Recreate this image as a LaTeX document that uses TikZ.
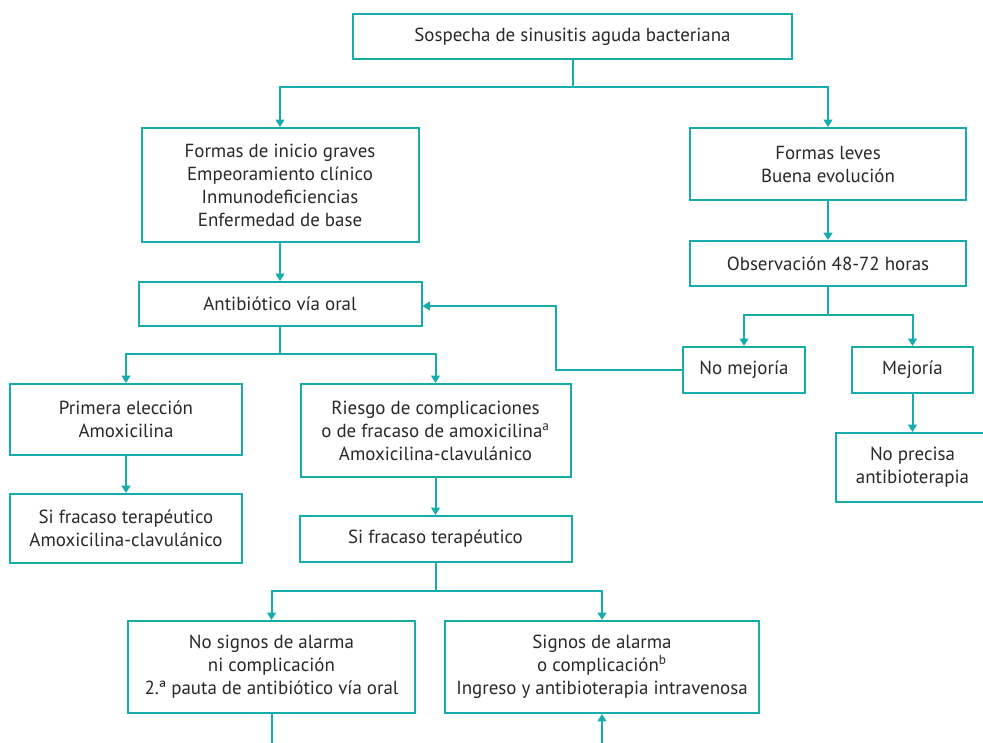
\documentclass[tikz,border=0pt]{standalone}
\usepackage{fontspec}
\setmainfont{PT Sans}
\usetikzlibrary{arrows.meta}

\definecolor{tealline}{RGB}{22,172,172}
\definecolor{inktext}{RGB}{40,40,40}

\tikzset{every picture/.style={line width=0.75pt}}
\tikzset{
  flowbox/.style={draw=tealline, line width=1.5pt, text=inktext, align=center,
    inner sep=0.75pt, font=\fontsize{14.2}{17.25}\selectfont},
  flowline/.style={draw=tealline, line width=1.5pt},
  flowarrow/.style={flowline, -{Triangle[length=5.5pt,width=6.5pt]}}
}

\begin{document}
\begin{tikzpicture}[x=0.75pt,y=0.75pt,yscale=-1,xscale=1]
\useasboundingbox (0,0) rectangle (983,743);

% Boxes
\node [flowbox, minimum width=329.25pt, minimum height=33.75pt] (top) at (572.5,36.5) {Sospecha de sinusitis aguda bacteriana};
\node [flowbox, minimum width=207.75pt, minimum height=85.5pt] (graves) at (280,185) {Formas de inicio graves\\Empeoramiento clínico\\Inmunodeficiencias\\Enfermedad de base};
\node [flowbox, minimum width=207pt, minimum height=54pt] (leves) at (828,164) {Formas leves\\Buena evolución};
\node [flowbox, minimum width=207pt, minimum height=33.75pt] (obs) at (828,263.5) {Observación 48-72 horas};
\node [flowbox, minimum width=212.25pt, minimum height=33pt] (antib) at (280,304) {Antibiótico vía oral};
\node [flowbox, minimum width=91.5pt, minimum height=34.5pt] (nomej) at (744,370) {No mejoría};
\node [flowbox, minimum width=90.75pt, minimum height=34.5pt] (mej) at (912.5,370) {Mejoría};
\node [flowbox, minimum width=115.5pt, minimum height=51.75pt] (noprec) at (912.5,467.5) {No precisa\\antibioterapia};
\node [flowbox, minimum width=174pt, minimum height=53.25pt] (primera) at (126,419.5) {Primera elección\\Amoxicilina};
\node [flowbox, minimum width=202.5pt, minimum height=69.75pt] (riesgo) at (435.5,430.5) {Riesgo de complicaciones\\o de fracaso de amoxicilina\textsuperscript{a}\\Amoxicilina-clavulánico};
\node [flowbox, minimum width=174pt, minimum height=51.75pt] (sifr1) at (126,528.5) {Si fracaso terapéutico\\Amoxicilina-clavulánico};
\node [flowbox, minimum width=204pt, minimum height=34.5pt] (sifr2) at (435.5,539) {Si fracaso terapéutico};
\node [flowbox, minimum width=215.25pt, minimum height=69pt] (nosig) at (271.5,667) {No signos de alarma\\ni complicación\\2.ª pauta de antibiótico vía oral};
\node [flowbox, minimum width=235.5pt, minimum height=69pt] (sig) at (602,667) {Signos de alarma\\o complicación\textsuperscript{b}\\Ingreso y antibioterapia intravenosa};

% Connectors
\draw [flowline] (top.south) -- ++(0,27) coordinate (split1);
\draw [flowarrow] (split1) -| (graves.north);
\draw [flowarrow] (split1) -| (leves.north);
\draw [flowarrow] (graves) -- (antib);
\draw [flowarrow] (leves) -- (obs);

\draw [flowline] (obs.south) -- ++(0,28) coordinate (split3);
\draw [flowarrow] (split3) -| (nomej.north);
\draw [flowarrow] (split3) -| (mej.north);
\draw [flowarrow] (mej) -- (noprec);
\coordinate (back) at (556,306);
\draw [flowarrow] (nomej.west) -| (back) -- (antib.east |- back);

\draw [flowline] (antib.south) -- ++(0,27) coordinate (split2);
\draw [flowarrow] (split2) -| (primera.north);
\draw [flowarrow] (split2) -| (riesgo.north);
\draw [flowarrow] (primera) -- (sifr1);
\draw [flowarrow] (riesgo) -- (sifr2);

\draw [flowline] (sifr2.south) -- ++(0,28) coordinate (split4);
\draw [flowarrow] (split4) -| (nosig.north);
\draw [flowarrow] (split4) -| (sig.north);
\coordinate (exitL) at (271.5,750);
\coordinate (exitR) at (602,750);
\draw [flowline] (nosig.south) -- (exitL);
\draw [flowarrow] (exitR) -- (sig.south);

\end{tikzpicture}
\end{document}
